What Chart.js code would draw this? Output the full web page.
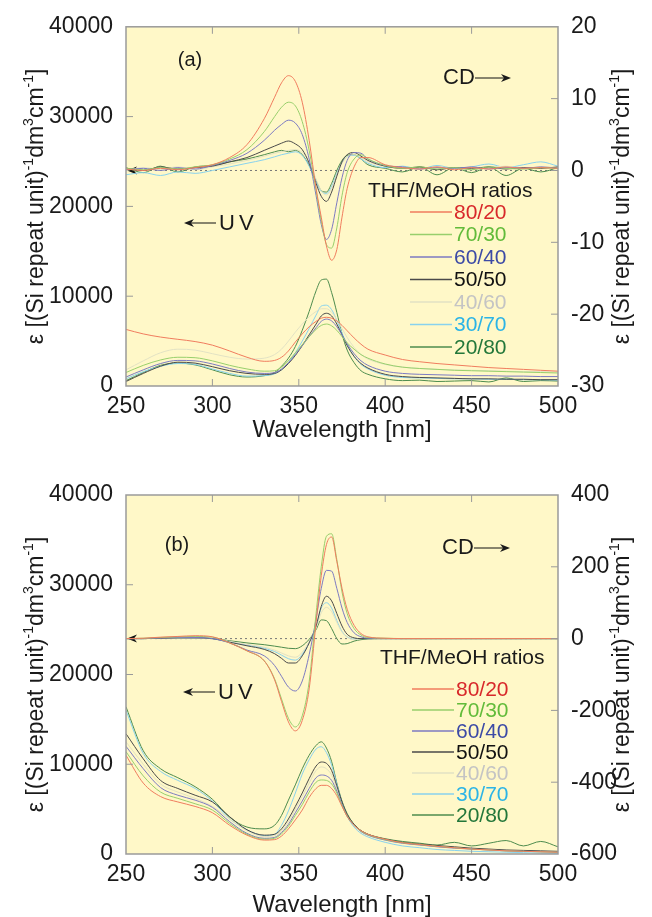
<!DOCTYPE html>
<html>
<head>
<meta charset="utf-8">
<script src="https://cdn.jsdelivr.net/npm/chart.js@4.4.1/dist/chart.umd.min.js"></script>
<style>
    html, body { margin: 0; padding: 0; background: #fff; }
    canvas { display: block; }
</style>
</head>
<body>
<canvas id="chart-a" width="652" height="458"></canvas>
<canvas id="chart-b" width="652" height="459"></canvas>
<script>
const FONT = '"Liberation Sans", Arial, Helvetica, sans-serif';

// wavelength grid (nm)
const wavelengths = [250, 260, 270, 280, 290, 300, 310, 320, 330, 336, 340, 344, 348, 352, 356, 360, 363, 366, 369, 372, 375, 378, 382, 386, 390, 400, 410, 420, 430, 440, 450, 460, 470, 480, 490, 500];

const ratios = ["80/20", "70/30", "60/40", "50/50", "40/60", "30/70", "20/80"];
const lineColors = ["#f07c5e", "#98cf6c", "#7c7ac2", "#4a4a4a", "#e2e2c4", "#88d2ee", "#4e8c4e"];
const textColors = ["#d8282a", "#62bb3a", "#3c4aa6", "#111111", "#c4c4c4", "#2cb4e6", "#23773a"];

const xTicks = [250, 300, 350, 400, 450, 500];
const uvTicks = [0, 10000, 20000, 30000, 40000];
const cdTicksA = [-30, -20, -10, 0, 10, 20];
const cdTicksB = [-600, -400, -200, 0, 200, 400];

// panel (a): UV absorbance, one row per THF/MeOH ratio
const uvA = [
    [6300, 5800, 5450, 5200, 4950, 4550, 3900, 3200, 2750, 2850, 3200, 3900, 4900, 5800, 6600, 7200, 7550, 7650, 7550, 7250, 6750, 6150, 5350, 4650, 4100, 3450, 2950, 2700, 2500, 2350, 2200, 2050, 1950, 1850, 1750, 1650],
    [1500, 2300, 2900, 3200, 3150, 2800, 2300, 1900, 1650, 1700, 2100, 2800, 3700, 4600, 5500, 6300, 6750, 6900, 6700, 6200, 5500, 4800, 4100, 3500, 3100, 2450, 2100, 1950, 1850, 1750, 1700, 1650, 1600, 1550, 1500, 1450],
    [1000, 1800, 2500, 2850, 2800, 2450, 1950, 1550, 1400, 1500, 1900, 2600, 3500, 4500, 5500, 6500, 7200, 7450, 7250, 6600, 5700, 4700, 3600, 2800, 2300, 1650, 1400, 1300, 1250, 1200, 1150, 1150, 1100, 1100, 1050, 1050],
    [500, 1400, 2200, 2650, 2550, 2150, 1700, 1400, 1300, 1400, 1800, 2500, 3400, 4500, 5700, 6900, 7800, 8100, 7800, 6900, 5700, 4500, 3300, 2500, 2000, 1300, 1050, 950, 900, 850, 800, 800, 750, 750, 700, 700],
    [1800, 2800, 3700, 4100, 4000, 3600, 3200, 3000, 3100, 3500, 4100, 5000, 6000, 6900, 7700, 8300, 8600, 8600, 8200, 7400, 6400, 5400, 4300, 3500, 3000, 2400, 2100, 1950, 1850, 1800, 1750, 1700, 1650, 1600, 1600, 1550],
    [800, 1600, 2200, 2500, 2400, 1900, 1400, 1100, 1150, 1350, 1800, 2600, 3700, 5000, 6400, 7900, 8900, 9000, 8500, 7300, 5900, 4600, 3300, 2400, 1900, 1200, 950, 900, 850, 800, 800, 750, 750, 700, 700, 650],
    [600, 1500, 2300, 2550, 2350, 1800, 1250, 1000, 1150, 1500, 2200, 3100, 4400, 6200, 8300, 10600, 11800, 11900, 10400, 8200, 5800, 4000, 2600, 1700, 1300, 800, 600, 650, 500, 550, 600, 450, 900, 500, 600, 550],
];

// panel (a): CD
const cdA = [
    [0.2, 0.0, 0.3, 0.1, 0.4, 0.8, 1.8, 3.6, 7.2, 10.2, 12.2, 13.2, 12.4, 9.5, 4.2, -2.5, -6.5, -10.5, -12.5, -11.0, -6.5, -2.5, 0.5, 1.8, 1.8, 0.8, 0.4, 0.2, 0.5, 0.1, 0.4, 0.2, 0.5, 0.3, 0.4, 0.3],
    [0.3, 0.1, 0.4, 0.2, 0.5, 0.8, 1.6, 2.9, 5.4, 7.5, 8.8, 9.5, 9.0, 6.8, 2.8, -2.8, -7.0, -10.3, -10.8, -8.0, -3.5, -0.3, 1.6, 2.2, 1.6, 0.7, 0.3, 0.5, 0.2, 0.4, 0.1, 0.5, 0.3, 0.2, 0.4, 0.3],
    [0.1, 0.3, 0.0, 0.4, 0.2, 0.7, 1.4, 2.4, 4.2, 5.6, 6.4, 7.0, 6.6, 5.0, 1.6, -3.5, -7.5, -9.6, -8.2, -4.5, -1.0, 1.4, 2.5, 2.4, 1.6, 0.7, 0.5, 0.2, 0.4, 0.3, 0.5, 0.2, 0.4, 0.3, 0.5, 0.3],
    [0.3, 0.0, 0.5, 0.2, 0.4, 0.6, 1.2, 1.8, 2.8, 3.4, 3.8, 4.1, 3.7, 2.9, 1.0, -1.8, -3.6, -4.3, -3.0, -0.8, 1.2, 2.2, 2.5, 2.0, 1.4, 0.6, 0.3, 0.5, 0.1, 0.4, 0.3, 0.5, 0.2, 0.4, 0.3, 0.5],
    [0.0, 0.4, 0.2, 0.5, 0.1, 0.5, 0.9, 1.4, 2.0, 2.4, 2.6, 2.8, 2.9, 2.5, 1.2, -1.2, -2.8, -3.4, -2.5, -0.6, 1.0, 1.9, 2.2, 1.8, 1.2, 0.6, 0.4, 0.2, 0.5, 0.3, 0.1, 0.4, 0.6, 0.2, 0.5, 0.4],
    [-0.6, -0.3, -0.7, -0.2, -0.4, 0.0, 0.5, 1.0, 1.5, 1.9, 2.2, 2.4, 2.6, 2.1, 0.6, -1.6, -2.9, -3.2, -2.2, -0.4, 1.1, 1.9, 2.1, 1.6, 1.0, 0.4, 0.6, 0.2, 0.7, 0.3, 0.5, 0.9, 0.4, 0.8, 1.2, 0.6],
    [0.4, -0.3, 0.6, -0.2, 0.5, 0.7, 1.2, 1.6, 2.2, 2.6, 2.8, 2.6, 2.8, 2.2, 0.7, -1.4, -2.8, -3.0, -1.8, 0.0, 1.4, 2.1, 2.2, 1.6, 0.8, 0.3, -0.2, 0.5, -0.6, 0.4, -0.3, 0.5, -0.7, 0.3, -0.2, 0.4],
];

// panel (b): UV absorbance
const uvB = [
    [11000, 7900, 6400, 5800, 5300, 4600, 3200, 2100, 1550, 1600, 2000, 2800, 3800, 4900, 6300, 7300, 7650, 7650, 7300, 6500, 5300, 4200, 3200, 2600, 2200, 1650, 1250, 1050, 850, 700, 550, 450, 350, 300, 250, 200],
    [11400, 8700, 6900, 6200, 5600, 4900, 3400, 2200, 1650, 1750, 2250, 3100, 4300, 5500, 6900, 8000, 8250, 8200, 7800, 6800, 5400, 4200, 3200, 2550, 2150, 1600, 1250, 1050, 850, 700, 550, 450, 350, 300, 250, 200],
    [12000, 9500, 7400, 6550, 6000, 5200, 3600, 2300, 1750, 1850, 2400, 3300, 4600, 5900, 7300, 8500, 8800, 8700, 8200, 7000, 5500, 4200, 3200, 2500, 2100, 1550, 1200, 1000, 800, 650, 550, 450, 350, 300, 250, 200],
    [13400, 10600, 8200, 7300, 6550, 5800, 4150, 2700, 2100, 2200, 2800, 3900, 5300, 6800, 8400, 9800, 10250, 10100, 9300, 7600, 5800, 4400, 3300, 2600, 2200, 1650, 1300, 1100, 950, 800, 650, 550, 450, 400, 350, 300],
    [12500, 10000, 7800, 6900, 6200, 5300, 3900, 2600, 1950, 2050, 2600, 3600, 5000, 6400, 7900, 9300, 9700, 9500, 8800, 7300, 5600, 4300, 3200, 2500, 2100, 1550, 1200, 1000, 850, 700, 600, 500, 400, 350, 300, 250],
    [16000, 11200, 9200, 8200, 7300, 5900, 3900, 2700, 2050, 2200, 3200, 4800, 6800, 8900, 10500, 11700, 11950, 11300, 9900, 7800, 5700, 4200, 3000, 2300, 1900, 1300, 900, 700, 500, 400, 300, 250, 200, 150, 100, 50],
    [16400, 11500, 9500, 8500, 7500, 6100, 4100, 3000, 2800, 3200, 4300, 6000, 7700, 9500, 11000, 12100, 12500, 11800, 10300, 7900, 5900, 4500, 3300, 2600, 2200, 1700, 1400, 1200, 1000, 1300, 900, 1200, 1500, 900, 1400, 800],
];

// panel (b): CD
const cdB = [
    [0, 1, 4, 6, 8, 5, -12, -34, -62, -115, -175, -232, -257, -228, -140, 45, 175, 262, 283, 215, 140, 82, 37, 14, 5, 1, 0, 0, 0, 0, 0, 0, 0, 0, 0, 0],
    [0, 1, 3, 5, 6, 4, -12, -34, -62, -112, -168, -222, -246, -215, -120, 70, 200, 285, 292, 220, 130, 70, 28, 10, 3, 1, 0, 0, 0, 0, 0, 0, 0, 0, 0, 0],
    [0, 0, 2, 3, 3, 0, -12, -32, -48, -75, -105, -135, -146, -118, -45, 55, 140, 190, 188, 140, 85, 45, 16, 5, 1, 0, 0, 0, 0, 0, 0, 0, 0, 0, 0, 0],
    [0, 0, 1, 2, 2, 0, -10, -20, -30, -42, -55, -68, -68, -48, -12, 35, 90, 118, 105, 70, 35, 12, 2, 0, 0, 0, 0, 0, 0, 0, 0, 0, 0, 0, 0, 0],
    [0, 0, 1, 1, 1, 0, -8, -16, -24, -32, -40, -48, -52, -38, -8, 30, 72, 87, 75, 45, 18, 4, -2, 0, 0, 0, 0, 0, 0, 0, 0, 0, 0, 0, 0, 0],
    [0, 0, 1, 1, 1, 0, -9, -18, -27, -36, -46, -56, -60, -44, -10, 35, 85, 100, 85, 50, 20, 5, -1, 0, 0, 0, 0, 0, 0, 0, 0, 0, 0, 0, 0, 0],
    [0, 0, 1, 1, 1, 0, -6, -12, -17, -21, -24, -27, -28, -20, -2, 25, 52, 50, 28, 0, -15, -14, -7, -3, -1, 0, 0, 0, 0, 0, 0, 0, 0, 0, 0, 0],
];

const yTitle = [
    { t: "ε [(Si repeat unit)" },
    { t: "-1", sup: true },
    { t: "dm" },
    { t: "3", sup: true },
    { t: "cm" },
    { t: "-1", sup: true },
    { t: "]" },
];

Chart.defaults.font.family = FONT;
Chart.defaults.font.size = 23;
Chart.defaults.color = "#1a1a1a";

// text with raised parts, centred on (cx, cy)
function drawRich(ctx, parts, cx, cy, size) {
    const big = `${size}px ${FONT}`;
    const small = `${Math.round(size * 0.62)}px ${FONT}`;
    let w = 0;
    parts.forEach((p) => {
        ctx.font = p.sup ? small : big;
        w += ctx.measureText(p.t).width;
    });
    let x = cx - w / 2;
    ctx.textAlign = "left";
    ctx.textBaseline = "middle";
    parts.forEach((p) => {
        ctx.font = p.sup ? small : big;
        ctx.fillText(p.t, x, p.sup ? cy - size * 0.36 : cy);
        x += ctx.measureText(p.t).width;
    });
}

function arrowHead(ctx, x, y, dir) {
    ctx.beginPath();
    ctx.moveTo(x, y);
    ctx.lineTo(x - dir * 10, y - 4);
    ctx.lineTo(x - dir * 7, y);
    ctx.lineTo(x - dir * 10, y + 4);
    ctx.closePath();
    ctx.fill();
}

const panelPlugin = {
    id: "panel",
    beforeDatasetsDraw(chart) {
        const { ctx, chartArea: a, scales } = chart;
        ctx.save();
        ctx.fillStyle = "#fff8c8";
        ctx.fillRect(a.left, a.top, a.right - a.left, a.bottom - a.top);
        // zero line of the CD axis
        const y0 = scales.y2.getPixelForValue(0);
        ctx.strokeStyle = "#777";
        ctx.lineWidth = 1;
        ctx.setLineDash([2, 3]);
        ctx.beginPath();
        ctx.moveTo(a.left + 4, y0);
        ctx.lineTo(a.right, y0);
        ctx.stroke();
        ctx.setLineDash([]);
        ctx.fillStyle = "#111";
        arrowHead(ctx, a.left + 1, y0, -1);
        ctx.restore();
    },
    afterDatasetsDraw(chart, args, o) {
        const { ctx, chartArea: a, scales } = chart;
        ctx.save();

        // frame + inner ticks
        ctx.strokeStyle = "#9a9a9a";
        ctx.lineWidth = 1.5;
        ctx.strokeRect(a.left, a.top, a.right - a.left, a.bottom - a.top);
        ctx.lineWidth = 1;
        ctx.beginPath();
        scales.x.ticks.forEach((t) => {
            if (t.value <= scales.x.min || t.value >= scales.x.max) return;
            const px = scales.x.getPixelForValue(t.value);
            ctx.moveTo(px, a.top);
            ctx.lineTo(px, a.top + 7);
            ctx.moveTo(px, a.bottom);
            ctx.lineTo(px, a.bottom - 7);
        });
        scales.y.ticks.forEach((t) => {
            if (t.value <= scales.y.min || t.value >= scales.y.max) return;
            const py = scales.y.getPixelForValue(t.value);
            ctx.moveTo(a.left, py);
            ctx.lineTo(a.left + 7, py);
        });
        scales.y2.ticks.forEach((t) => {
            if (t.value <= scales.y2.min || t.value >= scales.y2.max) return;
            const py = scales.y2.getPixelForValue(t.value);
            ctx.moveTo(a.right, py);
            ctx.lineTo(a.right - 7, py);
        });
        ctx.stroke();

        // axis titles
        ctx.fillStyle = "#1a1a1a";
        const cy = (a.top + a.bottom) / 2;
        [37, 623].forEach((cx) => {
            ctx.save();
            ctx.translate(cx, cy);
            ctx.rotate(-Math.PI / 2);
            drawRich(ctx, yTitle, 0, 0, 23);
            ctx.restore();
        });
        drawRich(ctx, [{ t: "Wavelength [nm]" }], (a.left + a.right) / 2, o.xTitleY, 24);

        // panel tag and arrows
        drawRich(ctx, [{ t: o.tag }], o.tagX, o.tagY, 20);
        ctx.font = `22px ${FONT}`;
        ctx.textAlign = "left";
        ctx.textBaseline = "middle";
        ctx.fillText("CD", o.cdX, o.cdY);
        ctx.strokeStyle = "#111";
        ctx.beginPath();
        ctx.moveTo(o.cdX + 32, o.cdY);
        ctx.lineTo(o.cdX + 64, o.cdY);
        ctx.stroke();
        arrowHead(ctx, o.cdX + 68, o.cdY, 1);
        ctx.beginPath();
        ctx.moveTo(o.uvX + 4, o.uvY);
        ctx.lineTo(o.uvX + 32, o.uvY);
        ctx.stroke();
        arrowHead(ctx, o.uvX, o.uvY, -1);
        ctx.letterSpacing = "4px";
        ctx.fillText("UV", o.uvX + 35, o.uvY + 1);
        ctx.letterSpacing = "0px";

        // legend
        ctx.font = `21px ${FONT}`;
        ctx.fillStyle = "#1a1a1a";
        ctx.fillText("THF/MeOH ratios", o.legX, o.legY);
        chart.data.datasets.slice(0, ratios.length).forEach((ds, i) => {
            const y = o.rowY + i * o.rowGap;
            ctx.strokeStyle = ds.borderColor;
            ctx.lineWidth = 1.5;
            ctx.beginPath();
            ctx.moveTo(o.lineX, y);
            ctx.lineTo(o.lineX + 42, y);
            ctx.stroke();
            ctx.fillStyle = textColors[i];
            ctx.fillText(ds.label, o.lineX + 44, y + 1);
        });
        ctx.restore();
    },
};

function makeChart(id, uv, cd, cdTicks, o) {
    const datasets = [];
    ratios.forEach((r, i) => {
        datasets.push({
            label: r,
            data: wavelengths.map((w, k) => ({ x: w, y: uv[i][k] })),
            yAxisID: "y",
            borderColor: lineColors[i],
        });
    });
    ratios.forEach((r, i) => {
        datasets.push({
            label: r + " CD",
            data: wavelengths.map((w, k) => ({ x: w, y: cd[i][k] })),
            yAxisID: "y2",
            borderColor: lineColors[i],
        });
    });

    const tickFont = { size: 23, family: FONT };
    return new Chart(document.getElementById(id), {
        type: "line",
        data: { datasets },
        options: {
            responsive: false,
            animation: false,
            layout: { padding: { top: o.top, left: 0, right: 0, bottom: 0 } },
            elements: {
                point: { radius: 0 },
                line: { borderWidth: 1, cubicInterpolationMode: "monotone" },
            },
            plugins: {
                legend: { display: false },
                tooltip: { enabled: false },
                panel: o,
            },
            scales: {
                x: {
                    type: "linear",
                    min: xTicks[0],
                    max: xTicks[xTicks.length - 1],
                    afterBuildTicks: (s) => { s.ticks = xTicks.map((v) => ({ value: v })); },
                    ticks: { font: tickFont, padding: o.xPad, maxRotation: 0, autoSkip: false, callback: (v) => String(v) },
                    grid: { display: false, drawTicks: false },
                    border: { display: false },
                    afterFit: (s) => { s.height = o.xh; },
                },
                y: {
                    position: "left",
                    min: uvTicks[0],
                    max: uvTicks[uvTicks.length - 1],
                    afterBuildTicks: (s) => { s.ticks = uvTicks.map((v) => ({ value: v })); },
                    ticks: { font: tickFont, padding: 13, callback: (v) => String(v) },
                    grid: { display: false, drawTicks: false },
                    border: { display: false },
                    afterFit: (s) => { s.width = 126; },
                },
                y2: {
                    position: "right",
                    min: cdTicks[0],
                    max: cdTicks[cdTicks.length - 1],
                    afterBuildTicks: (s) => { s.ticks = cdTicks.map((v) => ({ value: v })); },
                    ticks: { font: tickFont, padding: 13, callback: (v) => String(v) },
                    grid: { display: false, drawTicks: false },
                    border: { display: false },
                    afterFit: (s) => { s.width = 94; },
                },
            },
        },
        plugins: [panelPlugin],
    });
}

makeChart("chart-a", uvA, cdA, cdTicksA, {
    top: 24, xh: 72, xPad: 7, xTitleY: 430,
    tag: "(a)", tagX: 190, tagY: 60,
    cdX: 443, cdY: 78, uvX: 184, uvY: 223,
    legX: 368, legY: 191, lineX: 410, rowY: 212, rowGap: 22.5,
});

makeChart("chart-b", uvB, cdB, cdTicksB, {
    top: 37, xh: 63, xPad: 7, xTitleY: 447,
    tag: "(b)", tagX: 177, tagY: 87,
    cdX: 442, cdY: 90, uvX: 183, uvY: 234,
    legX: 380, legY: 200, lineX: 412, rowY: 231, rowGap: 21,
});
</script>
</body>
</html>
